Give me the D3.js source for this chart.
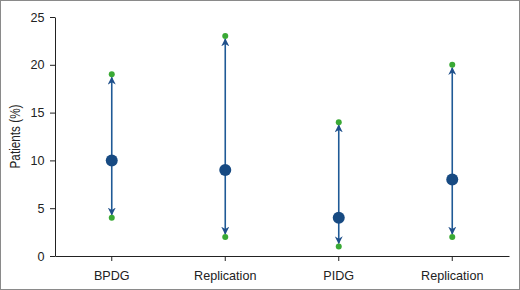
<!DOCTYPE html>
<html>
<head>
<meta charset="utf-8">
<script src="https://cdn.jsdelivr.net/npm/d3@7"></script>
<style>
  body { margin: 0; background: #fff; }
  #chart { width: 520px; height: 290px; }
  .axis text { font-family: "Liberation Sans", Arial, sans-serif; font-size: 12.6px; fill: #222; }
  .axis path, .axis line { stroke: #222; }
</style>
</head>
<body>
<div id="chart"></div>
<script>
// Chart values
const groups = ['BPDG', 'Replication1', 'PIDG', 'Replication2']
const groupLabels = ['BPDG', 'Replication', 'PIDG', 'Replication']
const means = [10, 9, 4, 8]
const lows = [4, 2, 1, 2]
const highs = [19, 23, 14, 20]
const yTicks = [0, 5, 10, 15, 20, 25]

const width = 520
const height = 290
const margin = { top: 17, right: 11, bottom: 34, left: 55 }
const innerW = width - margin.left - margin.right
const innerH = height - margin.top - margin.bottom

const svg = d3.select('#chart').append('svg')
  .attr('width', width)
  .attr('height', height)

// Frame around the figure
svg.append('rect')
  .attr('x', 0.5).attr('y', 0.5)
  .attr('width', width - 1).attr('height', height - 1)
  .attr('fill', 'none')
  .attr('stroke', '#8a8a8a')

// Arrowhead marker
const defs = svg.append('defs')
defs.append('marker')
  .attr('id', 'arrow')
  .attr('viewBox', '0 0 10 10')
  .attr('refX', 9).attr('refY', 5)
  .attr('markerWidth', 8).attr('markerHeight', 8)
  .attr('markerUnits', 'userSpaceOnUse')
  .attr('orient', 'auto')
  .append('path')
  .attr('d', 'M0,0 L10,5 L0,10 L3,5 Z')
  .attr('fill', '#1f4f8a')

const g = svg.append('g')
  .attr('transform', `translate(${margin.left},${margin.top})`)

const x = d3.scaleBand().domain(groups).range([0, innerW])
const y = d3.scaleLinear().domain([0, 25]).range([innerH, 0])

// Axes
g.append('g')
  .attr('class', 'axis')
  .attr('transform', `translate(0,${innerH})`)
  .call(d3.axisBottom(x).tickSize(5).tickSizeOuter(0).tickFormat((d, i) => groupLabels[i]))
  .call(a => a.selectAll('text').attr('dy', '1.25em'))

g.append('g')
  .attr('class', 'axis')
  .call(d3.axisLeft(y).tickValues(yTicks).tickSize(5).tickSizeOuter(0))
  .call(a => a.selectAll('text').attr('dx', '-0.2em'))

// Y axis title (condensed look)
svg.append('text')
  .attr('transform', `translate(20,${margin.top + innerH / 2}) rotate(-90) scale(0.84,1)`)
  .attr('text-anchor', 'middle')
  .style('font-family', '"Liberation Sans", Arial, sans-serif')
  .style('font-size', '14px')
  .style('fill', '#222')
  .text('Patients (%)')

// Range arrows, end dots, mean dots
groups.forEach((grp, i) => {
  const cx = x(grp) + x.bandwidth() / 2
  // upward arrow
  g.append('line')
    .attr('x1', cx).attr('x2', cx)
    .attr('y1', y(means[i])).attr('y2', y(highs[i]) + 3)
    .attr('stroke', '#1f5a96').attr('stroke-width', 1.6)
    .attr('marker-end', 'url(#arrow)')
  // downward arrow
  g.append('line')
    .attr('x1', cx).attr('x2', cx)
    .attr('y1', y(means[i])).attr('y2', y(lows[i]) - 3)
    .attr('stroke', '#1f5a96').attr('stroke-width', 1.6)
    .attr('marker-end', 'url(#arrow)')
  // green end points
  ;[lows[i], highs[i]].forEach(v => {
    g.append('circle')
      .attr('cx', cx).attr('cy', y(v))
      .attr('r', 3)
      .attr('fill', '#3aa935')
  })
  // mean
  g.append('circle')
    .attr('cx', cx).attr('cy', y(means[i]))
    .attr('r', 6)
    .attr('fill', '#174a82')
})
</script>
</body>
</html>
